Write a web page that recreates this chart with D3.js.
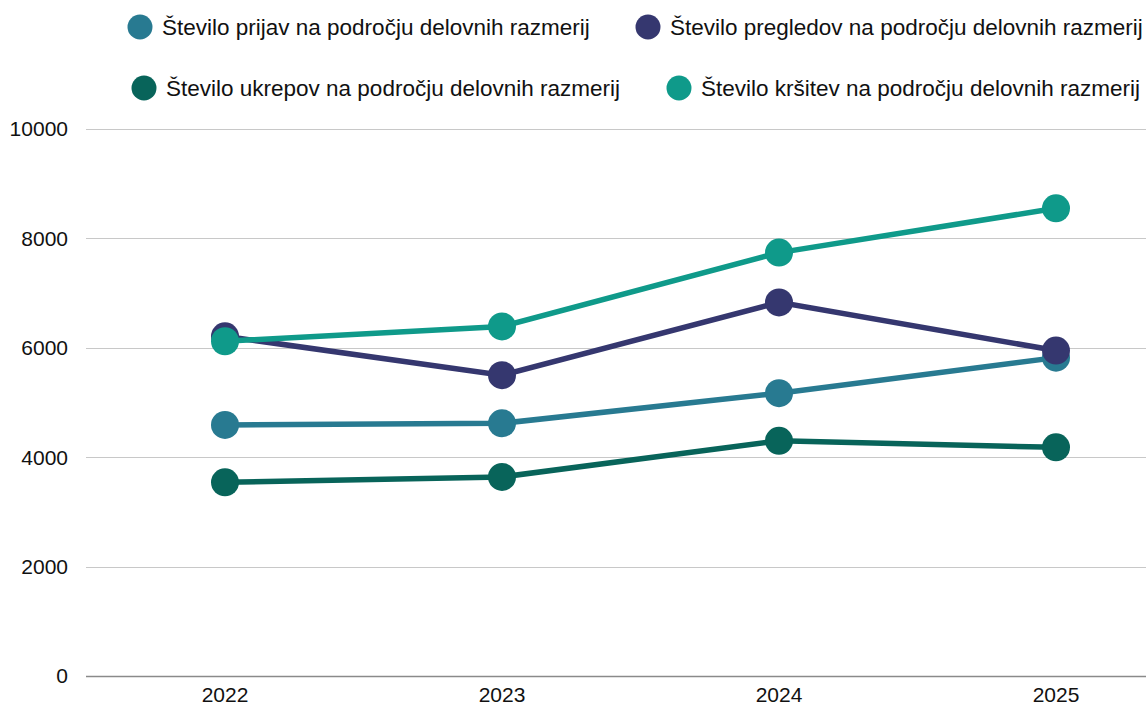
<!DOCTYPE html>
<html>
<head>
<meta charset="utf-8">
<script src="https://cdn.jsdelivr.net/npm/d3@7"></script>
<style>
  body { margin: 0; background: #fff; overflow: hidden; }
  text { font-family: "Liberation Sans", Arial, sans-serif; fill: #111; }
</style>
</head>
<body>
<div id="chart"></div>
<script>
const years = ["2022", "2023", "2024", "2025"];
const seriesNames = [
    "Število prijav na področju delovnih razmerij",
    "Število pregledov na področju delovnih razmerij",
    "Število ukrepov na področju delovnih razmerij",
    "Število kršitev na področju delovnih razmerij"
];
const prijav = [4590, 4620, 5170, 5820];
const pregledov = [6210, 5500, 6830, 5950];
const ukrepov = [3540, 3640, 4300, 4180];
const krsitev = [6120, 6390, 7740, 8550];
const yTicks = [0, 2000, 4000, 6000, 8000, 10000];
const colors = ["#287a91", "#35376f", "#08645a", "#0f9a8a"];

const width = 1146;
const height = 706;

const svg = d3.select("#chart").append("svg")
    .attr("width", width)
    .attr("height", height);

const x = d3.scaleBand()
    .domain(years)
    .range([86.5, 1194.5]);

const y = d3.scaleLinear()
    .domain([0, 10000])
    .range([676, 129]);

// gridlines
svg.append("g")
    .selectAll("line")
    .data(yTicks)
    .enter().append("line")
    .attr("x1", 86)
    .attr("x2", width)
    .attr("y1", d => Math.round(y(d)) + 0.5)
    .attr("y2", d => Math.round(y(d)) + 0.5)
    .attr("stroke", d => d === 0 ? "#8a8a8a" : "#c8c8c8")
    .attr("stroke-width", d => d === 0 ? 1.5 : 1);

// y labels
svg.append("g")
    .selectAll("text")
    .data(yTicks)
    .enter().append("text")
    .attr("x", 68)
    .attr("y", d => y(d))
    .attr("dy", "0.35em")
    .attr("text-anchor", "end")
    .style("font-size", "21px")
    .text(d => d);

// x labels
svg.append("g")
    .selectAll("text")
    .data(years)
    .enter().append("text")
    .attr("x", d => x(d) + x.bandwidth() / 2)
    .attr("y", 702)
    .attr("text-anchor", "middle")
    .style("font-size", "21px")
    .text(d => d);

const allSeries = [prijav, pregledov, ukrepov, krsitev];

const line = d3.line()
    .x((d, i) => x(years[i]) + x.bandwidth() / 2)
    .y(d => y(d));

allSeries.forEach(function(values, s) {
    const g = svg.append("g");
    g.append("path")
        .attr("d", line(values))
        .attr("fill", "none")
        .attr("stroke", colors[s])
        .attr("stroke-width", 5.5);
    g.selectAll("circle")
        .data(values)
        .enter().append("circle")
        .attr("cx", (d, i) => x(years[i]) + x.bandwidth() / 2)
        .attr("cy", d => y(d))
        .attr("r", 14)
        .attr("fill", colors[s]);
});

// legend
const legendPos = [[140, 27], [648, 27], [144, 88], [679, 88]];
const legend = svg.append("g")
    .selectAll("g")
    .data(seriesNames)
    .enter().append("g")
    .attr("transform", (d, i) => "translate(" + legendPos[i][0] + "," + legendPos[i][1] + ")");

legend.append("circle")
    .attr("r", 12.5)
    .attr("fill", (d, i) => colors[i]);

legend.append("text")
    .attr("x", 22)
    .attr("dy", "0.36em")
    .style("font-size", "22.5px")
    .text(d => d);
</script>
</body>
</html>
